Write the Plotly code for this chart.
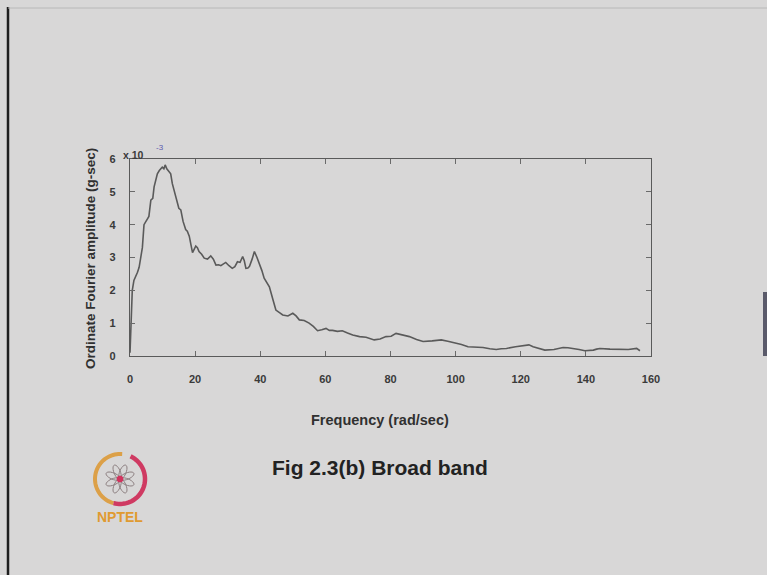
import math
import plotly.graph_objects as go

# Frequency (rad/sec)
freq = [0, 0.3, 0.7, 1.2, 1.7, 2.3, 2.8, 3.3, 3.8, 4.3,
        5.0, 5.8, 6.4, 7.0, 7.4, 8.0, 8.4, 9.0, 9.9, 10.4,
        10.8, 11.3, 12.0, 12.5, 13.0, 13.8, 14.5, 15.0, 15.6, 16.3,
        17.1, 17.6, 18.2, 18.7, 19.2, 19.7, 20.2, 20.7, 21.2, 22.0,
        22.8, 23.8, 24.8, 25.6, 26.4, 27.2, 27.9, 28.6, 29.4, 30.4,
        31.4, 32.2, 33.0, 33.8, 34.6, 35.1, 35.6, 36.2, 36.7, 37.5,
        38.2, 39.0, 39.7, 40.5, 41.2, 42.0, 42.8, 43.8, 44.8, 45.8,
        46.9, 48.5, 50.0, 51.0, 52.0, 53.5, 55.0, 56.3, 57.6, 58.9,
        60.2, 61.2, 62.2, 63.7, 65.2, 66.8, 68.4, 70.5, 72.5, 75.0,
        76.8, 78.6, 80.2, 81.7, 83.5, 85.8, 88.0, 90.0, 92.8, 95.6,
        97.6, 99.7, 101.8, 103.8, 106.0, 108.4, 110.5, 112.5, 114.0, 115.6,
        118.4, 121.2, 122.5, 123.8, 125.6, 127.4, 130.2, 133.0, 134.5, 136.1,
        137.9, 139.7, 141.0, 142.3, 143.3, 144.3, 147.4, 150.5, 153.0, 155.6,
        156.6]

# Ordinate Fourier amplitude (x 10^-3 g-sec)
amplitude = [0.1, 1.0, 2.0, 2.3, 2.4, 2.55, 2.7, 3.0, 3.3, 4.0,
             4.1, 4.25, 4.75, 4.8, 5.15, 5.4, 5.55, 5.65, 5.75, 5.7,
             5.82, 5.7, 5.62, 5.55, 5.25, 4.95, 4.65, 4.5, 4.45, 4.1,
             3.85, 3.8, 3.65, 3.4, 3.15, 3.25, 3.35, 3.3, 3.18, 3.1,
             2.98, 2.95, 3.05, 2.95, 2.77, 2.78, 2.75, 2.8, 2.85, 2.75,
             2.67, 2.72, 2.87, 2.85, 3.03, 2.9, 2.67, 2.68, 2.73, 2.95,
             3.18, 3.0, 2.83, 2.6, 2.37, 2.25, 2.11, 1.75, 1.40, 1.33,
             1.25, 1.22, 1.30, 1.22, 1.10, 1.08, 1.0, 0.9, 0.77, 0.8,
             0.84, 0.78, 0.78, 0.75, 0.77, 0.7, 0.64, 0.59, 0.57, 0.49,
             0.52, 0.59, 0.6, 0.69, 0.65, 0.59, 0.5, 0.44, 0.46, 0.49,
             0.45, 0.41, 0.35, 0.28, 0.27, 0.26, 0.22, 0.2, 0.22, 0.23,
             0.28, 0.33, 0.34, 0.28, 0.22, 0.18, 0.2, 0.26, 0.25, 0.23,
             0.2, 0.16, 0.16, 0.18, 0.21, 0.23, 0.21, 0.2, 0.2, 0.23,
             0.16]

x_ticks = [0, 20, 40, 60, 80, 100, 120, 140, 160]
y_ticks = [0, 1, 2, 3, 4, 5, 6]

W, H = 767, 575
L, R, T, B = 130, 651, 159, 356  # plot area in pixels
BG = "#d8d7d7"
FONT = "Liberation Sans, Arial, sans-serif"


def px(x):
    return (x - L) / (R - L)


def py(y):
    return (B - y) / (B - T)


fig = go.Figure()
fig.add_trace(go.Scatter(x=freq, y=amplitude, mode="lines",
                         line=dict(color="#5a5a5a", width=1.6),
                         showlegend=False, hoverinfo="skip"))

axis_common = dict(showgrid=False, zeroline=False, showline=True, mirror="ticks",
                   linecolor="#5a5a5a", linewidth=1.3, ticks="inside", ticklen=5,
                   tickcolor="#6a6a6a", tickwidth=1,
                   tickfont=dict(family=FONT, size=11, color="#3a3a3a"))

fig.update_layout(
    width=W, height=H, autosize=False,
    margin=dict(l=L, r=W - R, t=T, b=H - B, pad=0),
    paper_bgcolor=BG, plot_bgcolor=BG,
    xaxis=dict(range=[0, 160], tickvals=x_ticks,
               ticktext=[f"<b>{v}</b>" for v in x_ticks],
               ticklabelstandoff=13, **axis_common),
    yaxis=dict(range=[0, 6], tickvals=y_ticks,
               ticktext=[f"<b>{v}</b>" for v in y_ticks],
               ticklabelstandoff=11, **axis_common),
)

shapes = []
# slide frame lines
shapes.append(dict(type="line", xref="paper", yref="paper",
                   x0=px(8), x1=px(8), y0=py(7), y1=py(575),
                   line=dict(color="#1e1e1e", width=2.5)))
shapes.append(dict(type="line", xref="paper", yref="paper",
                   x0=px(8), x1=px(767), y0=py(8), y1=py(8),
                   line=dict(color="#b8b8b8", width=1)))
shapes.append(dict(type="line", xref="paper", yref="paper",
                   x0=px(765), x1=px(765), y0=py(292), y1=py(356),
                   line=dict(color="#5a5a6a", width=4)))

# NPTEL logo (drawn)
cx, cy, r = 120, 479, 25


def arc_path(a0, a1, rad, n=40):
    pts = []
    for i in range(n + 1):
        a = math.radians(a0 + (a1 - a0) * i / n)
        pts.append((px(cx + rad * math.cos(a)), py(cy - rad * math.sin(a))))
    return "M " + " L ".join(f"{x:.5f},{y:.5f}" for x, y in pts)


shapes.append(dict(type="path", xref="paper", yref="paper",
                   path=arc_path(85, 255, r), line=dict(color="#dca048", width=4)))
shapes.append(dict(type="path", xref="paper", yref="paper",
                   path=arc_path(-105, 65, r), line=dict(color="#cf3a62", width=4.5)))


def petal_path(angle_deg, length=15, half_w=3.2, n=24):
    a = math.radians(angle_deg)
    ca, sa = math.cos(a), math.sin(a)
    pts = []
    for i in range(n + 1):
        t = 2 * math.pi * i / n
        u = length / 2 * (1 + math.cos(t))
        v = half_w * math.sin(t)
        X = cx + u * ca - v * sa
        Y = cy - (u * sa + v * ca)
        pts.append((px(X), py(Y)))
    return "M " + " L ".join(f"{x:.5f},{y:.5f}" for x, y in pts) + " Z"


for k in range(8):
    shapes.append(dict(type="path", xref="paper", yref="paper",
                       path=petal_path(k * 45 + 22.5),
                       line=dict(color="#8c7f80", width=1)))
shapes.append(dict(type="circle", xref="paper", yref="paper",
                   x0=px(cx - 3), x1=px(cx + 3), y0=py(cy - 3), y1=py(cy + 3),
                   fillcolor="#d0355e", line=dict(color="#d0355e", width=1)))
fig.update_layout(shapes=shapes)

ann = []
ann.append(dict(text="<b>Ordinate Fourier amplitude (g-sec)</b>", xref="paper", yref="paper",
                x=px(90), y=py(259), xanchor="center", yanchor="middle",
                textangle=-90, showarrow=False,
                font=dict(family=FONT, size=13.5, color="#303030")))
ann.append(dict(text="<b>x 10</b>", xref="paper", yref="paper",
                x=px(121), y=py(155), xanchor="left", yanchor="middle", showarrow=False,
                font=dict(family=FONT, size=10.5, color="#3a3a3a")))
ann.append(dict(text="-3", xref="paper", yref="paper",
                x=px(160), y=py(147), xanchor="center", yanchor="middle", showarrow=False,
                font=dict(family=FONT, size=8, color="#5a5ab0")))
ann.append(dict(text="<b>Frequency (rad/sec)</b>", xref="paper", yref="paper",
                x=px(380), y=py(420), xanchor="center", yanchor="middle", showarrow=False,
                font=dict(family=FONT, size=14.5, color="#303030")))
ann.append(dict(text="<b>Fig 2.3(b) Broad band</b>", xref="paper", yref="paper",
                x=px(380), y=py(467), xanchor="center", yanchor="middle", showarrow=False,
                font=dict(family=FONT, size=21, color="#222222")))
ann.append(dict(text="<b>NPTEL</b>", xref="paper", yref="paper",
                x=px(120), y=py(517), xanchor="center", yanchor="middle", showarrow=False,
                font=dict(family=FONT, size=14, color="#e09a30")))
fig.update_layout(annotations=ann)

fig.write_html("out.html")
